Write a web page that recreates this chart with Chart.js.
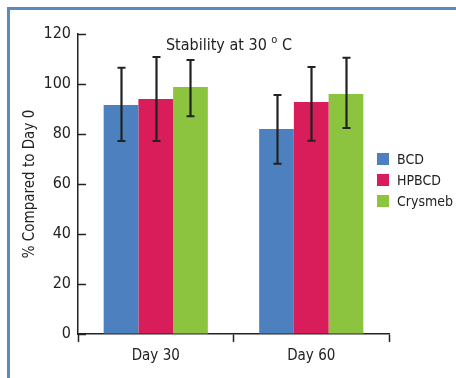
<!DOCTYPE html>
<html>
<head>
<meta charset="utf-8">
<script src="https://cdn.jsdelivr.net/npm/chart.js@4/dist/chart.umd.min.js"></script>
<style>
  html, body { margin: 0; padding: 0; background: #fff; }
  #wrap { width: 456px; height: 378px; position: relative; }
</style>
</head>
<body>
<div id="wrap"><canvas id="myChart" width="456" height="378"></canvas></div>
<script>
// data
const categories = ["Day 30", "Day 60"];
const seriesNames = ["BCD", "HPBCD", "Crysmeb"];
const seriesColors = ["#4d80bf", "#d91d5b", "#8cc43f"];
const bcd = [91.6, 82.0];
const hpbcd = [94.0, 92.8];
const crysmeb = [98.8, 96.0];
// error bar ends (low / high)
const bcdLow = [77.2, 68.1];
const bcdHigh = [106.5, 95.6];
const hpbcdLow = [77.2, 77.3];
const hpbcdHigh = [110.8, 106.8];
const crysmebLow = [87.1, 82.4];
const crysmebHigh = [109.6, 110.5];
const yTicks = [0, 20, 40, 60, 80, 100, 120];

const FONT = '"DejaVu Sans Condensed", "Liberation Sans", Arial, sans-serif';

const values = [bcd, hpbcd, crysmeb];
const lows = [bcdLow, hpbcdLow, crysmebLow];
const highs = [bcdHigh, hpbcdHigh, crysmebHigh];

// frame, error bars, inner y ticks, title, legend
const extras = {
  id: "extras",
  beforeDraw(chart) {
    const c = chart.ctx;
    c.save();
    c.strokeStyle = "#5b8ac0";
    c.lineWidth = 3;
    c.strokeRect(8.5, 8.5, 600, 600);
    c.restore();
  },
  afterDatasetsDraw(chart) {
    const c = chart.ctx;
    const y = chart.scales.y;
    c.save();
    c.strokeStyle = "#222";
    c.lineWidth = 2.2;
    chart.data.datasets.forEach((ds, i) => {
      const meta = chart.getDatasetMeta(i);
      meta.data.forEach((bar, j) => {
        const x = Math.round(bar.x) + 0.5;
        const top = y.getPixelForValue(highs[i][j]);
        const bot = y.getPixelForValue(lows[i][j]);
        c.beginPath();
        c.moveTo(x, top); c.lineTo(x, bot);
        c.moveTo(x - 4, top); c.lineTo(x + 4, top);
        c.moveTo(x - 4, bot); c.lineTo(x + 4, bot);
        c.stroke();
      });
    });
    c.restore();
  },
  afterDraw(chart) {
    const c = chart.ctx;
    const y = chart.scales.y;
    const area = chart.chartArea;
    c.save();
    // inner ticks on y axis
    c.strokeStyle = "#222";
    c.lineWidth = 1.5;
    yTicks.forEach((t) => {
      const py = Math.round(y.getPixelForValue(t)) + 0.5;
      c.beginPath();
      c.moveTo(area.left, py);
      c.lineTo(area.left + 8, py);
      c.stroke();
    });
    // title with superscript o
    c.fillStyle = "#222";
    c.textBaseline = "alphabetic";
    const a = "Stability at 30 ";
    const b = "o";
    const d = " C";
    c.font = "16px " + FONT;
    const wa = c.measureText(a).width;
    const wd = c.measureText(d).width;
    c.font = "11px " + FONT;
    const wb = c.measureText(b).width;
    let x = 229 - (wa + wb + wd) / 2;
    const base = 50;
    c.font = "16px " + FONT;
    c.fillText(a, x, base);
    x += wa;
    c.font = "11px " + FONT;
    c.fillText(b, x, base - 7);
    x += wb;
    c.font = "16px " + FONT;
    c.fillText(d, x, base);
    // legend
    c.font = "14px " + FONT;
    c.textBaseline = "middle";
    chart.data.datasets.forEach((ds, i) => {
      const cy = 159 + i * 21;
      c.fillStyle = ds.backgroundColor;
      c.fillRect(377, cy - 6, 12, 12);
      c.fillStyle = "#222";
      c.fillText(ds.label, 397, cy + 1);
    });
    c.restore();
  }
};

const ctx = document.getElementById("myChart").getContext("2d");
new Chart(ctx, {
  type: "bar",
  data: {
    labels: categories,
    datasets: seriesNames.map((name, i) => ({
      label: name,
      data: values[i],
      backgroundColor: seriesColors[i],
      borderWidth: 0,
      barPercentage: 1.0,
      categoryPercentage: 0.67
    }))
  },
  options: {
    responsive: false,
    animation: false,
    layout: { padding: { top: 34, right: 67, left: 21, bottom: 0 } },
    plugins: {
      legend: { display: false },
      tooltip: { enabled: false },
      title: { display: false }
    },
    scales: {
      x: {
        grid: {
          display: true,
          offset: true,
          drawOnChartArea: false,
          drawTicks: true,
          tickLength: 8,
          tickWidth: 1.5,
          tickColor: "#222"
        },
        border: { color: "#222", width: 1.5 },
        ticks: {
          color: "#222",
          padding: 5,
          font: { family: FONT, size: 15 }
        },
        afterFit(scale) { scale.height = 44; }
      },
      y: {
        min: 0,
        max: 120,
        afterBuildTicks(scale) { scale.ticks = yTicks.map((v) => ({ value: v })); },
        grid: { display: true, drawOnChartArea: false, drawTicks: false },
        border: { color: "#222", width: 1.5 },
        ticks: {
          color: "#222",
          padding: 7,
          font: { family: FONT, size: 16 }
        },
        title: {
          display: true,
          text: "% Compared to Day 0",
          color: "#222",
          padding: { top: 0, bottom: 0 },
          font: { family: FONT, size: 15 }
        },
        afterFit(scale) { scale.width = 57; }
      }
    }
  },
  plugins: [extras]
});
</script>
</body>
</html>
